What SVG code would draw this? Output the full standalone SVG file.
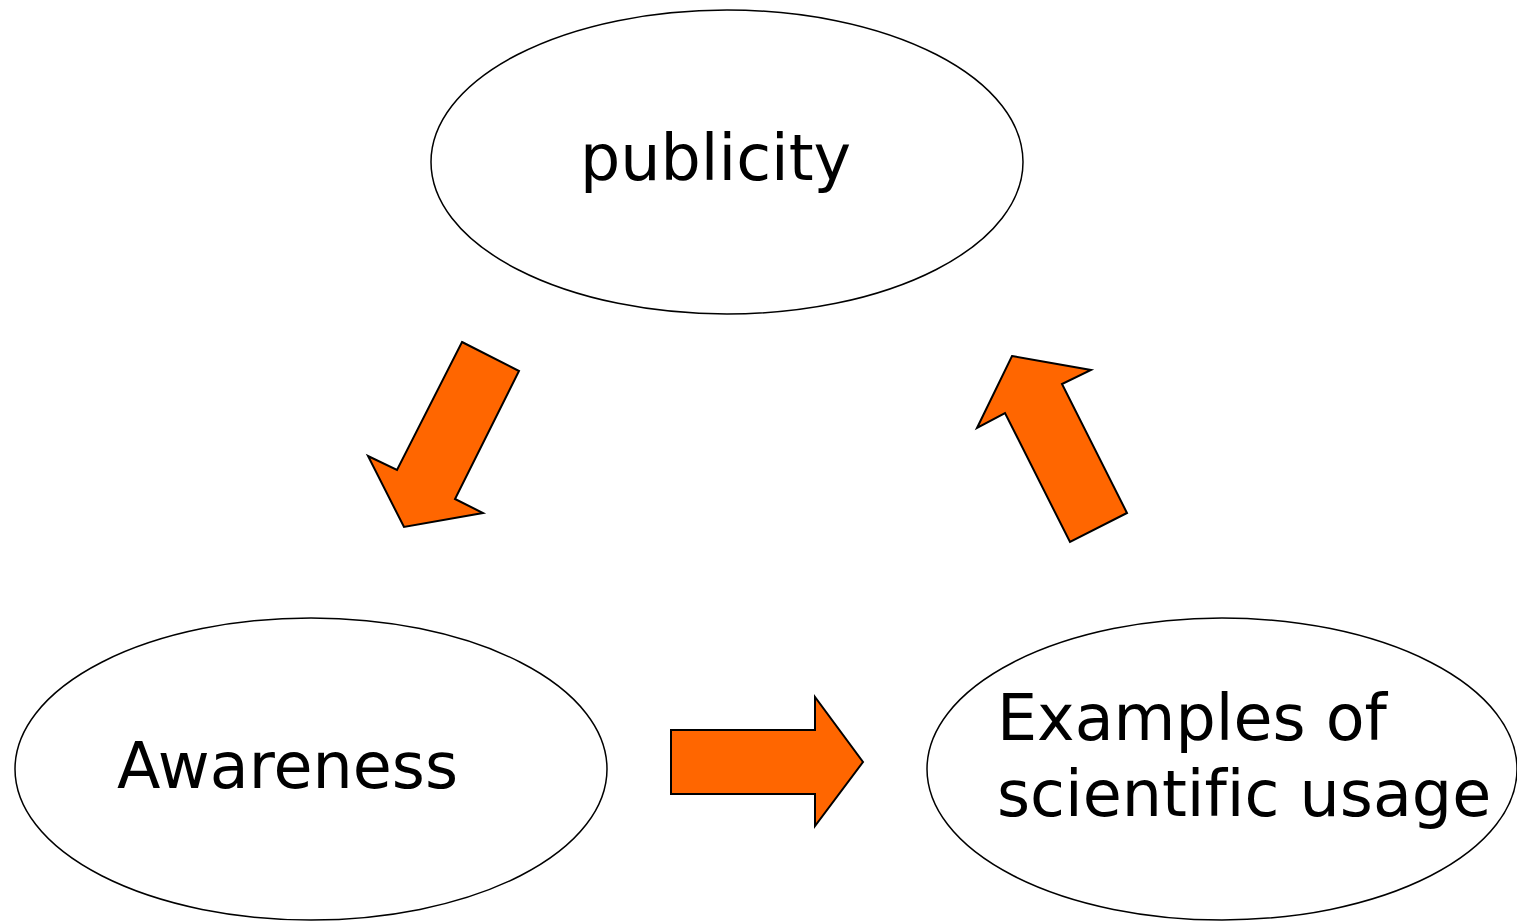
<svg xmlns="http://www.w3.org/2000/svg" width="1517" height="921" viewBox="0 0 1517 921">
<style>
.node ellipse{fill:#fff;stroke:#000;stroke-width:1.5}
.node text{font-family:"DejaVu Sans",Verdana,sans-serif;font-size:63.5px;fill:#000;font-variant-ligatures:none}
.arr{fill:#ff6600;stroke:#000;stroke-width:2;stroke-linejoin:miter}
</style>
<rect width="1517" height="921" fill="#fff"/>
<g id="publicity" class="node">
<ellipse cx="727" cy="162" rx="296" ry="152"/>
<text x="580" y="180">publicity</text>
</g>
<g id="awareness" class="node">
<ellipse cx="311" cy="769" rx="296" ry="151"/>
<text x="117" y="788">Awareness</text>
</g>
<g id="examples" class="node">
<ellipse cx="1222" cy="769" rx="295" ry="151"/>
<text x="997" y="740">Examples of</text>
<text x="997" y="816">scientific usage</text>
</g>
<g id="connectors">
<polygon class="arr" points="462,342 519,371 455,499 483,513 404,527 368,456 397,470"/>
<polygon class="arr" points="1012,356 1091,370 1062,384 1127,513 1070,542 1005,413 977,428"/>
<polygon class="arr" points="671,730 815,730 815,697 863,762 815,826 815,794 671,794"/>
</g>
</svg>
